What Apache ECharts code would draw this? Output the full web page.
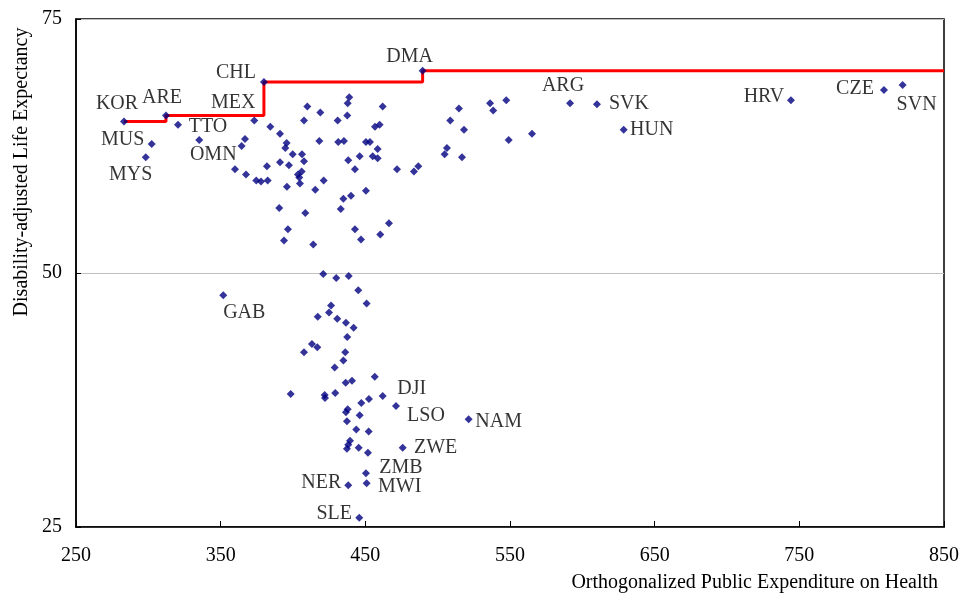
<!DOCTYPE html>
<html>
<head>
<meta charset="utf-8">
<script src="https://cdn.jsdelivr.net/npm/echarts@6/dist/echarts.min.js"></script>
<style>
html,body{margin:0;padding:0;background:#fff;}
#chart{width:963px;height:594px;}
</style>
</head>
<body>
<div id="chart"></div>
<script>
// ---- data ----
const labelledCodes = ['KOR','ARE','CHL','MEX','TTO','MUS','MYS','OMN','DMA','ARG','SVK','HUN','HRV','CZE','SVN','GAB','DJI','LSO','NAM','ZWE','ZMB','MWI','NER','SLE'];
const labelledX = [283.2,312.2,379.9,373.2,320.5,302.3,298.2,335.2,489.6,591.5,610.1,628.6,744.2,808.5,821.4,351.8,462.0,471.2,521.4,475.8,450.4,450.9,438.2,445.8];
const labelledY = [64.9,65.5,68.8,65.0,64.6,62.7,61.4,63.1,69.9,66.7,66.6,64.1,67.0,68.0,68.5,47.8,37.9,36.9,35.6,32.8,30.3,29.3,29.1,25.9];

const otherX = [366.8,364.5,409.9,407.6,384.3,391.0,395.6,394.7,399.8,406.2,407.6,391.0,397.2,382.0,359.9,367.5,374.6,377.9,382.5,395.8,
  403.4,404.3,404.8,406.0,418.2,418.9,421.2,415.4,430.9,431.3,435.2,437.5,438.9,437.8,462.0,438.2,442.8,446.1,450.4,453.2,
  456.7,459.9,458.5,455.1,458.5,450.4,434.8,440.1,433.0,390.5,408.5,396.5,393.8,414.0,442.8,447.0,460.3,466.3,471.9,483.6,
  486.6,508.7,514.7,518.2,506.4,504.8,516.8,536.2,538.4,547.4,549.1,565.2,
  420.9,429.9,438.5,445.1,450.9,426.3,424.9,417.1,430.6,436.6,441.9,437.5,413.1,416.8,407.6,436.1,434.8,428.8,436.4,440.8,
  456.5,398.4,421.9,422.1,429.2,447.2,452.5,437.8,436.6,446.1,437.3,443.7,452.3,439.4,438.2,437.3,445.4,451.8];
const otherY = [63.2,62.5,66.4,65.0,64.4,63.7,62.8,62.3,61.7,61.7,61.0,60.9,60.6,60.5,60.2,59.7,59.1,59.0,59.1,58.5,
  59.7,59.4,58.8,60.0,63.0,65.8,59.1,58.2,65.0,62.9,63.0,65.5,67.3,66.7,66.4,61.1,60.2,61.5,62.9,62.9,
  64.4,64.6,62.2,61.5,61.3,58.1,57.3,57.6,56.3,56.4,55.9,54.3,53.2,52.8,54.3,53.3,53.8,54.9,60.2,60.0,
  60.5,65.0,66.2,64.1,62.3,61.7,61.4,66.7,66.0,67.0,63.1,63.7,
  49.9,49.5,49.7,48.3,47.0,46.8,46.1,45.7,45.5,45.1,44.6,43.7,43.0,42.7,42.2,42.2,41.4,40.7,39.2,39.4,
  39.8,38.1,38.0,37.7,38.2,37.2,37.6,36.6,36.3,36.0,35.4,34.6,34.4,33.5,33.1,32.7,32.8,32.3];

const frontierX = [283.2,312.2,379.9,489.6,850];
const frontierY = [64.9,65.5,68.8,69.9,69.9];

const xTickValues = [250,350,450,550,650,750,850];
const yTickValues = [25,50,75];

const xAxisName = 'Orthogonalized Public Expenditure on Health';
const yAxisName = 'Disability-adjusted Life Expectancy';

// ---- label placement (pixel offsets of label centre from point) ----
const labelOffsets = {
  KOR:[-7,-18], ARE:[-4,-18], CHL:[-28,-9], MEX:[-21,-18], TTO:[30,2], MUS:[-29,-4], MYS:[-15,18], OMN:[14,15],
  DMA:[-13,-14], ARG:[-7,-18], SVK:[32,-1], HUN:[28,0], HRV:[-27,-4], CZE:[-29,-1], SVN:[14,20], GAB:[21,17],
  DJI:[29,-7], LSO:[30,10], NAM:[30,2], ZWE:[33,0], ZMB:[35,-5], MWI:[33,3], NER:[-27,-3], SLE:[-25,-4]
};

const FONT = '"Liberation Serif", "Times New Roman", serif';
const NAVY = '#000080';

const chart = echarts.init(document.getElementById('chart'), null, {renderer:'canvas'});

const otherData = otherX.map((x,i)=>[x, otherY[i]]);
const labelledData = labelledCodes.map((c,i)=>({name: c, value: [labelledX[i], labelledY[i]]}));

const option = {
  animation: false,
  backgroundColor: '#fff',
  grid: {left: 76, right: 19, top: 19, bottom: 67, show: true, borderColor: '#000', borderWidth: 1.5, backgroundColor: 'transparent'},
  xAxis: {
    type: 'value', min: 250, max: 850, interval: 100,
    axisLine: {show: true, onZero: false, lineStyle: {color: '#000', width: 1.5}},
    axisTick: {show: true, inside: true, length: 6, lineStyle: {color: '#000', width: 1}},
    axisLabel: {color: '#000', fontFamily: FONT, fontSize: 20, margin: 19,
      formatter: v => xTickValues.indexOf(v) >= 0 ? String(v) : ''},
    splitLine: {show: false},
    name: xAxisName, nameLocation: 'end', nameGap: -6,
    nameTextStyle: {color: '#000', fontFamily: FONT, fontSize: 20, align: 'right', verticalAlign: 'top', padding: [46,0,0,0]}
  },
  yAxis: {
    type: 'value', min: 25, max: 75, interval: 25,
    axisLine: {show: true, onZero: false, lineStyle: {color: '#000', width: 1.5}},
    axisTick: {show: true, inside: true, length: 5, lineStyle: {color: '#000', width: 1}},
    axisLabel: {color: '#000', fontFamily: FONT, fontSize: 20, margin: 14,
      formatter: v => yTickValues.indexOf(v) >= 0 ? String(v) : ''},
    splitLine: {show: true, lineStyle: {color: '#c0c0c0', width: 1}}
  },
  graphic: [{
    type: 'text', x: 22, y: 172, rotation: Math.PI/2,
    style: {text: yAxisName, fill: '#000', font: '20px ' + FONT, textAlign: 'center', textVerticalAlign: 'middle'}
  }],
  series: [
    {
      type: 'line', data: frontierX.map((x,i)=>[x, frontierY[i]]), step: 'end',
      showSymbol: false, symbol: 'none', lineStyle: {color: '#ff0000', width: 3}, z: 2, silent: true
    },
    {
      type: 'scatter', data: otherData, symbol: 'diamond', symbolSize: 8,
      itemStyle: {color: NAVY}, z: 3
    },
    {
      type: 'scatter', data: labelledData, symbol: 'diamond', symbolSize: 8,
      itemStyle: {color: NAVY}, z: 4,
      label: {show: true, formatter: p => p.name, position: 'inside', color: '#000', fontFamily: FONT, fontSize: 20},
      labelLayout: function (p) {
        const off = labelOffsets[labelledCodes[p.dataIndex]];
        return {
          x: p.rect.x + p.rect.width / 2 + off[0],
          y: p.rect.y + p.rect.height / 2 + off[1],
          align: 'center', verticalAlign: 'middle', hideOverlap: false
        };
      }
    }
  ]
};
chart.setOption(option);
</script>
</body>
</html>
